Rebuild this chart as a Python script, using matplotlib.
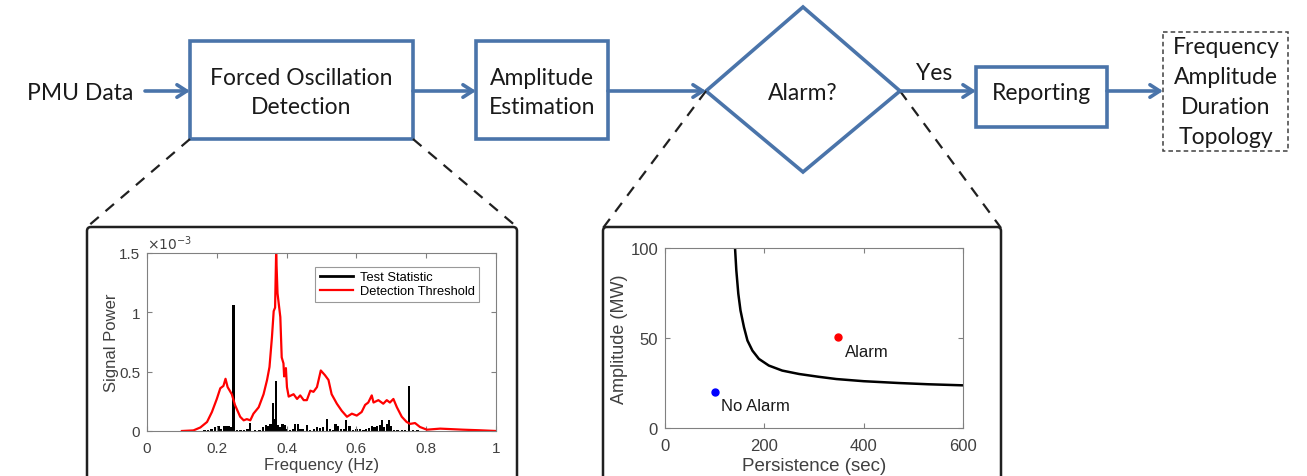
import numpy as np
import matplotlib
matplotlib.use("Agg")
import matplotlib.pyplot as plt
from matplotlib.patches import Rectangle, Polygon, FancyBboxPatch
from matplotlib.lines import Line2D

# ---------------- data ----------------
thr_freq = [0.100, 0.133, 0.153, 0.172, 0.186, 0.200, 0.210, 0.219, 0.225, 0.231,
            0.243, 0.252, 0.267, 0.277, 0.286, 0.296, 0.305, 0.320, 0.334, 0.344,
            0.351, 0.358, 0.363, 0.367, 0.370, 0.374, 0.382, 0.386, 0.391, 0.393,
            0.398, 0.401, 0.406, 0.420, 0.430, 0.439, 0.449, 0.458, 0.468, 0.477,
            0.487, 0.498, 0.510, 0.520, 0.529, 0.544, 0.558, 0.573, 0.587, 0.601,
            0.615, 0.625, 0.634, 0.644, 0.649, 0.663, 0.677, 0.687, 0.696, 0.706,
            0.716, 0.730, 0.744, 0.754, 0.768, 0.782, 0.802, 0.840, 0.906, 0.954, 1.000]
thr_power = [0.000, 0.005, 0.030, 0.076, 0.160, 0.270, 0.360, 0.380, 0.440, 0.370,
             0.310, 0.220, 0.120, 0.090, 0.100, 0.090, 0.146, 0.200, 0.310, 0.430,
             0.540, 0.790, 1.010, 1.040, 1.500, 1.160, 0.960, 0.620, 0.570, 0.460,
             0.530, 0.370, 0.290, 0.310, 0.270, 0.300, 0.260, 0.260, 0.340, 0.330,
             0.370, 0.510, 0.470, 0.430, 0.310, 0.230, 0.170, 0.120, 0.146, 0.130,
             0.160, 0.220, 0.240, 0.300, 0.240, 0.260, 0.230, 0.260, 0.240, 0.270,
             0.200, 0.120, 0.076, 0.060, 0.067, 0.034, 0.011, 0.020, 0.011, 0.006, 0.000]

stat_freq = [0.165, 0.175, 0.185, 0.195, 0.205, 0.212, 0.220, 0.228, 0.236, 0.242,
             0.248, 0.258, 0.268, 0.278, 0.288, 0.296, 0.310, 0.322, 0.332, 0.340,
             0.347, 0.354, 0.361, 0.366, 0.370, 0.376, 0.382, 0.388, 0.395, 0.402,
             0.410, 0.418, 0.425, 0.432, 0.440, 0.448, 0.458, 0.468, 0.478, 0.488,
             0.496, 0.505, 0.515, 0.524, 0.532, 0.540, 0.548, 0.556, 0.564, 0.571,
             0.580, 0.590, 0.600, 0.610, 0.620, 0.628, 0.636, 0.644, 0.652, 0.660,
             0.667, 0.673, 0.680, 0.687, 0.693, 0.700, 0.708, 0.718, 0.730, 0.740,
             0.751, 0.762, 0.775, 0.790]
stat_power = [0.005, 0.010, 0.015, 0.030, 0.040, 0.020, 0.045, 0.040, 0.040, 0.030,
              1.060, 0.010, 0.005, 0.010, 0.015, 0.067, 0.005, 0.010, 0.030, 0.050,
              0.040, 0.060, 0.240, 0.100, 0.420, 0.050, 0.030, 0.060, 0.050, 0.020,
              0.010, 0.020, 0.055, 0.060, 0.020, 0.015, 0.050, 0.010, 0.020, 0.030,
              0.025, 0.030, 0.100, 0.020, 0.010, 0.060, 0.040, 0.020, 0.015, 0.090,
              0.040, 0.010, 0.020, 0.015, 0.010, 0.020, 0.025, 0.040, 0.030, 0.040,
              0.050, 0.090, 0.030, 0.060, 0.090, 0.040, 0.010, 0.005, 0.010, 0.005,
              0.380, 0.010, 0.005, 0.003]

curve_persistence = [141, 143.6, 147.6, 152, 159, 166, 176, 189, 209, 236, 270, 308,
                     345, 400, 470, 530, 600]
curve_amplitude = [100, 87.6, 74.6, 65.3, 56.0, 48.6, 43.0, 38.4, 34.7, 31.9, 30.0, 28.5,
                   27.2, 26.0, 25.0, 24.3, 23.7]
alarm_point = (349, 50.5)
noalarm_point = (100, 19.9)

flow_labels = ["PMU Data", "Forced Oscillation\nDetection", "Amplitude\nEstimation",
               "Alarm?", "Yes", "Reporting"]
output_items = ["Frequency", "Amplitude", "Duration", "Topology"]

# ---------------- figure ----------------
W, H = 1307, 477
fig = plt.figure(figsize=(W / 100, H / 100), dpi=100)
fig.patch.set_facecolor("white")

bg = fig.add_axes([0, 0, 1, 1])
bg.set_xlim(0, W)
bg.set_ylim(H, 0)
bg.axis("off")

blue = "#4A74AA"
ffont = "Lato"
fs = 16.5
lw = 2.6

def box(x0, y0, x1, y1, **kw):
    bg.add_patch(Rectangle((x0, y0), x1 - x0, y1 - y0, fill=False, **kw))

def arrow(x0, x1, y):
    bg.annotate("", xy=(x1, y), xytext=(x0, y),
                arrowprops=dict(arrowstyle="->,head_length=0.7,head_width=0.45",
                                color=blue, lw=lw, shrinkA=0, shrinkB=0))

# boxes
box(190, 42, 413, 140, ec=blue, lw=lw)
box(476, 42, 608, 140, ec=blue, lw=lw)
bg.add_patch(Polygon([(706, 92), (803, 8), (900, 92), (803, 173)], closed=True,
                     fill=False, ec=blue, lw=lw))
box(976, 68, 1107, 128, ec=blue, lw=lw)
box(1163, 33, 1288, 152, ec="#404040", lw=1.1, ls=(0, (3, 2)))

# arrows
arrow(145, 190, 92)
arrow(413, 476, 92)
arrow(608, 706, 92)
arrow(900, 976, 92)
arrow(1107, 1163, 92)

# texts
tk = dict(ha="center", va="center", fontsize=fs, family=ffont, color="#1a1a1a")
bg.text(80, 93, flow_labels[0], **tk)
bg.text(301, 93, flow_labels[1], linespacing=1.45, **tk)
bg.text(542, 93, flow_labels[2], linespacing=1.45, **tk)
bg.text(803, 93, flow_labels[3], **tk)
bg.text(934, 73, flow_labels[4], **tk)
bg.text(1042, 93, flow_labels[5], **tk)
for i, s in enumerate(output_items):
    bg.text(1226, 48 + i * 29.7, s, **tk)

# dashed zoom lines
dk = dict(color="#202020", lw=1.6, ls=(0, (5, 4)))
bg.plot([190, 87], [140, 228], **dk)
bg.plot([413, 517], [140, 228], **dk)
bg.plot([706, 603], [92, 229], **dk)
bg.plot([900, 1001], [92, 229], **dk)

# panel frames
for (x0, x1) in [(87, 517), (603, 1001)]:
    bg.add_patch(FancyBboxPatch((x0, 228), x1 - x0, 300,
                                boxstyle="round,pad=0,rounding_size=4",
                                fill=False, ec="#202020", lw=1.8))

# ---------------- plot style ----------------
pfont = "Liberation Sans"
gray = "#808080"
tcol = "#404040"

def style(ax, tfs):
    for s in ax.spines.values():
        s.set_color(gray)
        s.set_linewidth(0.8)
    ax.tick_params(direction="in", top=True, right=True, color=gray,
                   labelcolor=tcol, labelsize=tfs, length=3.5, width=0.8)
    ax.tick_params(axis="x", pad=7)
    ax.tick_params(axis="y", pad=5)
    for lab in ax.get_xticklabels() + ax.get_yticklabels():
        lab.set_family(pfont)

# left plot
ax1 = fig.add_axes([147 / W, 1 - 432 / H, 349 / W, 178 / H])
ax1.bar(stat_freq, stat_power, width=0.0065, color="black")
ax1.plot(thr_freq, thr_power, color="red", lw=1.6)
ax1.set_xlim(0, 1)
ax1.set_ylim(0, 1.5)
ax1.set_xticks([0, 0.2, 0.4, 0.6, 0.8, 1])
ax1.set_xticklabels(["0", "0.2", "0.4", "0.6", "0.8", "1"])
ax1.set_yticks([0, 0.5, 1, 1.5])
ax1.set_yticklabels(["0", "0.5", "1", "1.5"])
style(ax1, 11)
ax1.set_xlabel("Frequency (Hz)", family=pfont, fontsize=12, color=tcol, labelpad=2)
ax1.set_ylabel("Signal Power", family=pfont, fontsize=12, color=tcol, labelpad=0)
ax1.text(0.0, 1.005, r"$\times10^{-3}$", transform=ax1.transAxes, ha="left", va="bottom",
         fontsize=10, color=tcol, family=pfont)
handles = [Line2D([], [], color="black", lw=2), Line2D([], [], color="red", lw=1.6)]
leg = ax1.legend(handles, ["Test Statistic", "Detection Threshold"], loc="upper right",
                 bbox_to_anchor=(0.97, 0.96), frameon=True, fancybox=False,
                 handlelength=2.6, borderpad=0.35, labelspacing=0.15, handletextpad=0.5,
                 prop={"family": pfont, "size": 9.3})
leg.get_frame().set_edgecolor(gray)
leg.get_frame().set_linewidth(0.8)

# right plot
ax2 = fig.add_axes([665 / W, 1 - 429 / H, 298 / W, 180 / H])
ax2.plot(curve_persistence, curve_amplitude, color="black", lw=1.8)
ax2.plot(*alarm_point, "o", color="red", ms=5)
ax2.plot(*noalarm_point, "o", color="blue", ms=5)
ax2.text(362, 42.5, "Alarm", family=pfont, fontsize=12, color="#1a1a1a", va="center")
ax2.text(112, 12.4, "No Alarm", family=pfont, fontsize=12, color="#1a1a1a", va="center")
ax2.set_xlim(0, 600)
ax2.set_ylim(0, 100)
ax2.set_xticks([0, 200, 400, 600])
ax2.set_yticks([0, 50, 100])
style(ax2, 12)
ax2.set_xlabel("Persistence (sec)", family=pfont, fontsize=13.5, color=tcol, labelpad=3)
ax2.set_ylabel("Amplitude (MW)", family=pfont, fontsize=13, color=tcol, labelpad=2)

fig.savefig("out.png", dpi=100)
